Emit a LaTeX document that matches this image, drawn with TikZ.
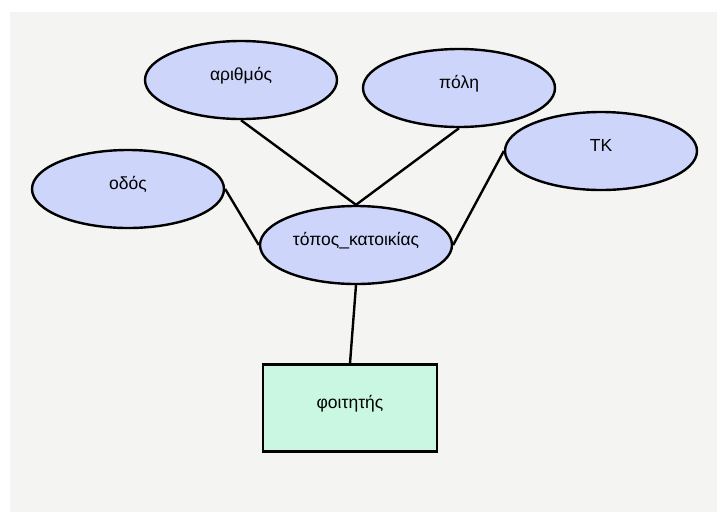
\documentclass[tikz,border=0pt]{standalone}
\usepackage{xcolor}
\usepackage{fontspec}
\setmainfont{Liberation Sans}
\usepackage{tikz}
\usetikzlibrary{shapes, positioning}
\definecolor{attrblue}{RGB}{205,213,250}
\definecolor{entgreen}{RGB}{202,247,226}
\definecolor{panelgray}{RGB}{244,245,243}
\newcommand{\attrcolor}{attrblue}
\newcommand{\entcolor}{entgreen}

\begin{document}
\begin{tikzpicture}[x=1pt, y=-1pt]
	\tikzstyle{attr}=[ellipse, draw=black, line width=2.4pt, fill=\attrcolor, minimum width=192pt, minimum height=78pt, inner sep=0pt, text height=11pt, text depth=11pt, font=\fontsize{17.5}{20}\selectfont]
	\tikzstyle{entity}=[rectangle, draw=black, line width=2.4pt, fill=\entcolor, minimum width=174pt, minimum height=87pt, inner sep=0pt, text height=11pt, text depth=11pt, font=\fontsize{17.5}{20}\selectfont]
	\useasboundingbox (0,0) rectangle (717,512);
	\fill[white] (0,0) rectangle (717,512);
	\fill[panelgray] (10,12) rectangle (717,512);
	\node (arithmos) at (241,80) [attr]{αριθμός};
	\node (poli) at (459,88) [attr]{πόλη};
	\node (odos) at (128,189) [attr]{οδός};
	\node (tk) at (601,151) [attr]{ΤΚ};
	\node (topos) at (356,245) [attr]{τόπος\_κατοικίας};
	\node (foititis) at (350,408) [entity]{φοιτητής};
	\draw[line width=2.4pt] (arithmos.south) -- (topos.north);
	\draw[line width=2.4pt] (poli.south) -- (topos.north);
	\draw[line width=2.4pt] (odos.east) -- (topos.west);
	\draw[line width=2.4pt] (tk.west) -- (topos.east);
	\draw[line width=2.4pt] (topos.south) -- (foititis.north);
	\end{tikzpicture}
\end{document}
